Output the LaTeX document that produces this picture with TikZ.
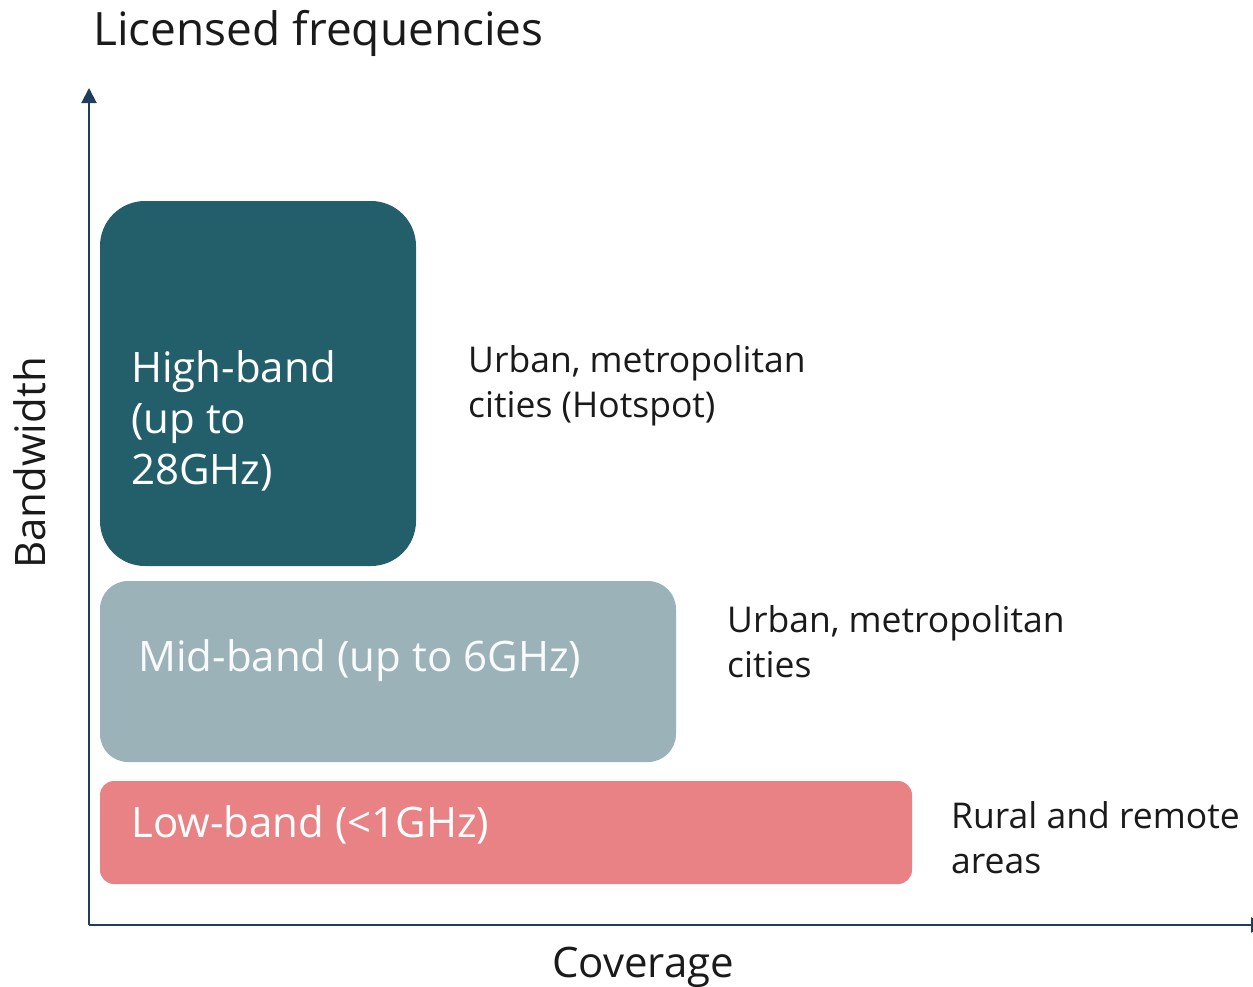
\documentclass[tikz,border=0pt]{standalone}
\usepackage{fontspec}
\setmainfont{Open Sans}
\usetikzlibrary{arrows.meta, positioning}
\definecolor{Caxis}{HTML}{1F3D5C}
\definecolor{Chigh}{HTML}{235F6B}
\definecolor{Cmid}{HTML}{9BB3B8}
\definecolor{Clow}{HTML}{E88285}
\definecolor{Ctext}{HTML}{1A1A1A}
\tikzset{
  bandtxt/.style={anchor=base west, inner sep=0pt, align=left,
    font=\fontsize{42}{51}\selectfont},
  usetxt/.style={anchor=base west, inner sep=0pt, align=left, text=Ctext,
    font=\fontsize{35.5}{45}\selectfont},
  axislbl/.style={inner sep=0pt, text=Ctext, font=\fontsize{42}{46}\selectfont},
  axis/.style={-{Triangle[length=15pt, width=15pt]}, line width=2pt, Caxis},
}

\begin{document}
\begin{tikzpicture}[x=1pt, y=-1pt]
\useasboundingbox (0,0) rectangle (1253,986);

%% title
\node[anchor=base west, inner sep=0pt, text=Ctext,
  font=\fontsize{46}{50}\selectfont] (title) at (93,45) {Licensed frequencies};

%% axes
\coordinate (origin) at (89,925);
\coordinate (ytip)   at (89,88);
\coordinate (xtip)   at (1266,925);
\draw[axis] (origin) -- (ytip);
\draw[axis] (origin) -- (xtip);
\node[axislbl, anchor=base] (xlbl) at (643,977) {Coverage};
\node[axislbl, anchor=base, rotate=90] (ylbl) at (45,463) {Bandwidth};

%% bands
\fill[Chigh, rounded corners=45pt] (100,201) rectangle (416,566);
\fill[Cmid,  rounded corners=28pt] (100,581) rectangle (676,762);
\fill[Clow,  rounded corners=14pt] (100,781) rectangle (912,884);

%% band labels (base = last line)
\node[bandtxt, text=white] (high) at (131,484) {High-band\\(up to\\28GHz)};
\node[bandtxt, text=white!94!Cmid] (mid) at (138,671) {Mid-band (up to 6GHz)};
\node[bandtxt, text=white] (low) at (131,837) {Low-band (<1GHz)};

%% use cases
\node[usetxt] (hotspot) at (468,417) {Urban, metropolitan\\cities (Hotspot)};
\node[usetxt] (urban)   at (727,677) {Urban, metropolitan\\cities};
\node[usetxt] (rural)   at (951,873) {Rural and remote\\areas};

\end{tikzpicture}
\end{document}
